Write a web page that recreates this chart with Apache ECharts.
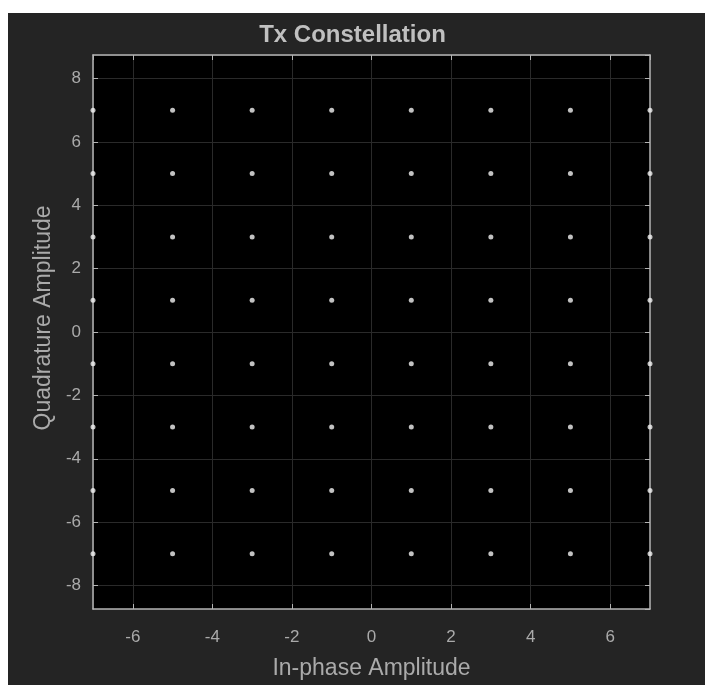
<!DOCTYPE html>
<html>
<head>
<meta charset="utf-8">
<script src="https://cdn.jsdelivr.net/npm/echarts@6/dist/echarts.min.js"></script>
<style>
  html, body { margin: 0; padding: 0; background: #fff; }
  #chart { width: 705px; height: 685px; }
</style>
</head>
<body>
<div id="chart"></div>
<script>
// 64-QAM constellation points [I, Q]
const txPoints = [
  [-7, 7], [-5, 7], [-3, 7], [-1, 7], [1, 7], [3, 7], [5, 7], [7, 7],
  [-7, 5], [-5, 5], [-3, 5], [-1, 5], [1, 5], [3, 5], [5, 5], [7, 5],
  [-7, 3], [-5, 3], [-3, 3], [-1, 3], [1, 3], [3, 3], [5, 3], [7, 3],
  [-7, 1], [-5, 1], [-3, 1], [-1, 1], [1, 1], [3, 1], [5, 1], [7, 1],
  [-7, -1], [-5, -1], [-3, -1], [-1, -1], [1, -1], [3, -1], [5, -1], [7, -1],
  [-7, -3], [-5, -3], [-3, -3], [-1, -3], [1, -3], [3, -3], [5, -3], [7, -3],
  [-7, -5], [-5, -5], [-3, -5], [-1, -5], [1, -5], [3, -5], [5, -5], [7, -5],
  [-7, -7], [-5, -7], [-3, -7], [-1, -7], [1, -7], [3, -7], [5, -7], [7, -7]
]
// axis limits
const xLimits = [-7, 7]
const yLimits = [-8.74, 8.74]

const axisColor = '#b4b4b4'
const labelColor = '#aaaaaa'
const gridColor = '#2a2a2a'

const chart = echarts.init(document.getElementById('chart'))

// shared look for the box axes (MATLAB style: ticks inside, on all four sides)
function boxAxis (extra) {
  return Object.assign({
    type: 'value',
    axisLine: { show: true, onZero: false, lineStyle: { color: axisColor, width: 1.5 } },
    axisTick: { show: true, inside: true, length: 5, lineStyle: { color: axisColor } },
    splitLine: { show: false },
    axisLabel: { show: false }
  }, extra)
}

chart.setOption({
  backgroundColor: '#ffffff',
  animation: false,
  graphic: [
    {
      type: 'rect',
      z: -10,
      shape: { x: 8, y: 13, width: 697, height: 672 },
      style: { fill: '#242424' }
    }
  ],
  title: {
    text: 'Tx Constellation',
    left: 'center',
    top: 18,
    textStyle: {
      color: '#c0c0c0',
      fontFamily: 'Liberation Sans',
      fontWeight: 'bold',
      fontSize: 24
    }
  },
  grid: {
    left: 93,
    right: 55,
    top: 55,
    bottom: 75,
    show: true,
    backgroundColor: '#000000',
    borderWidth: 0
  },
  xAxis: [
    boxAxis({
      min: xLimits[0],
      max: xLimits[1],
      splitNumber: 7,
      position: 'bottom',
      name: 'In-phase Amplitude',
      nameLocation: 'middle',
      nameGap: 48,
      nameTextStyle: { color: labelColor, fontFamily: 'Liberation Sans', fontSize: 23 },
      splitLine: { show: true, lineStyle: { color: gridColor, width: 1 } },
      axisLabel: {
        show: true,
        color: labelColor,
        fontFamily: 'Liberation Sans',
        fontSize: 17,
        margin: 20,
        showMinLabel: false,
        showMaxLabel: false
      }
    }),
    boxAxis({
      min: xLimits[0],
      max: xLimits[1],
      splitNumber: 7,
      position: 'top'
    })
  ],
  yAxis: [
    boxAxis({
      min: yLimits[0],
      max: yLimits[1],
      splitNumber: 8,
      position: 'left',
      name: 'Quadrature Amplitude',
      nameLocation: 'middle',
      nameGap: 38,
      nameTextStyle: {
        color: labelColor,
        fontFamily: 'Liberation Sans',
        fontSize: 23,
        padding: [0, 0, 0, 28]
      },
      splitLine: { show: true, lineStyle: { color: gridColor, width: 1 } },
      axisLabel: {
        show: true,
        color: labelColor,
        fontFamily: 'Liberation Sans',
        fontSize: 17,
        margin: 12,
        showMinLabel: false,
        showMaxLabel: false
      }
    }),
    boxAxis({
      min: yLimits[0],
      max: yLimits[1],
      splitNumber: 8,
      position: 'right'
    })
  ],
  series: [
    {
      type: 'scatter',
      data: txPoints,
      symbol: 'circle',
      symbolSize: 5,
      clip: false,
      itemStyle: { color: '#f2f2f2' }
    }
  ]
})
</script>
</body>
</html>
